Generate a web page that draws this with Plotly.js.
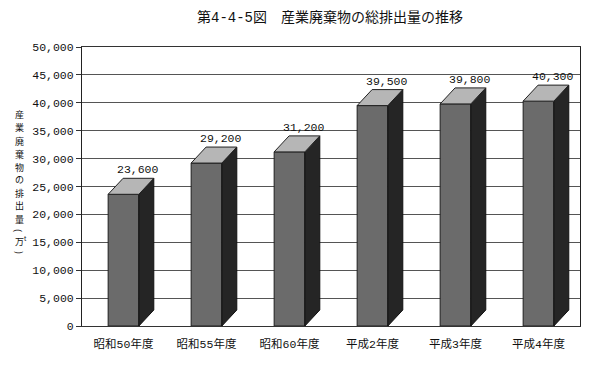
<!DOCTYPE html>
<html>
<head>
<meta charset="utf-8">
<script src="https://cdn.plot.ly/plotly-3.0.1.min.js"></script>
<style>html,body{margin:0;padding:0;background:#fff;}</style>
</head>
<body>
<div id="chart" style="width:600px;height:366px;"></div>
<script>
// ---- data ----
const categories = ['昭和50年度', '昭和55年度', '昭和60年度', '平成2年度', '平成3年度', '平成4年度'];
const values = [23600, 29200, 31200, 39500, 39800, 40300];
const yTickValues = [0, 5000, 10000, 15000, 20000, 25000, 30000, 35000, 40000, 45000, 50000];
const yTickLabels = ['0', '5,000', '10,000', '15,000', '20,000', '25,000', '30,000', '35,000', '40,000', '45,000', '50,000'];
const valueLabels = ['23,600', '29,200', '31,200', '39,500', '39,800', '40,300'];
const titleText = '第4-4-5図　産業廃棄物の総排出量の推移';
const yTitleChars = ['産', '業', '廃', '棄', '物', 'の', '排', '出', '量', '(', '万<sup>t</sup>', ')'];

// ---- style ----
const FONT = 'Liberation Mono, "Noto Sans CJK JP", monospace';
const half = 0.185;      // half bar width (category units)
const dx = 0.18;         // 3D depth in x (category units)
const dy = 2870;         // 3D depth in y (value units)
const M = {l: 82, r: 20, t: 47, b: 40};
const W = 600, H = 366;
const pw = W - M.l - M.r, ph = H - M.t - M.b;

const xs = categories.map((c, i) => i);

// side and top faces built from values
const sideX = [], sideY = [], topX = [], topY = [];
values.forEach((v, i) => {
  sideX.push(i + half, i + half + dx, i + half + dx, i + half, i + half, null);
  sideY.push(0, dy, v + dy, v, 0, null);
  topX.push(i - half, i + half, i + half + dx, i - half + dx, i - half, null);
  topY.push(v, v, v + dy, v + dy, v, null);
});

const traces = [
  {type: 'bar', x: xs, y: values, width: 2 * half,
   marker: {color: '#6b6b6b', line: {color: '#1e1e1e', width: 1}},
   hoverinfo: 'skip', showlegend: false},
  {type: 'scatter', mode: 'lines', x: sideX, y: sideY, fill: 'toself',
   fillcolor: '#252525', line: {color: '#111', width: 1}, hoverinfo: 'skip', showlegend: false},
  {type: 'scatter', mode: 'lines', x: topX, y: topY, fill: 'toself',
   fillcolor: '#b6b6b6', line: {color: '#222', width: 1}, hoverinfo: 'skip', showlegend: false}
];

const annotations = [];
values.forEach((v, i) => {
  annotations.push({x: i + dx, y: v + dy, xref: 'x', yref: 'y', text: valueLabels[i],
    showarrow: false, yanchor: 'bottom', yshift: 0,
    font: {family: FONT, size: 11.5, color: '#111'}});
});
// vertical y-axis title (upright characters stacked)
const px2x = px => (px - M.l) / pw;
const py2y = py => (H - M.b - py) / ph;
const YT_FONT = '"Noto Sans CJK JP"';
const yTitlePos = [115, 128, 141, 154, 167, 180, 193, 206, 219, 230, 241, 252];
yTitleChars.forEach((ch, k) => {
  const isParen = (ch === '(' || ch === ')');
  annotations.push({xref: 'paper', yref: 'paper', x: px2x(k === 10 ? 21 : 19), y: py2y(yTitlePos[k]),
    text: ch, textangle: isParen ? 90 : 0, showarrow: false, xanchor: 'center', yanchor: 'middle',
    borderpad: 0,
    font: {family: YT_FONT, size: 9, color: '#111'}});
});
// title
annotations.push({xref: 'paper', yref: 'paper', x: px2x(330), y: py2y(17), text: titleText,
  showarrow: false, xanchor: 'center', yanchor: 'middle',
  font: {family: FONT, size: 14, color: '#111'}});

const layout = {
  width: W, height: H,
  margin: M,
  paper_bgcolor: '#fff', plot_bgcolor: '#fff',
  showlegend: false,
  bargap: 0,
  xaxis: {range: [-0.5, 5.5], tickvals: xs, ticktext: categories, showgrid: false,
    zeroline: false, showline: true, linecolor: '#333', linewidth: 1, mirror: true,
    ticks: '', ticklabelstandoff: 7, fixedrange: true,
    tickfont: {family: FONT, size: 11.5, color: '#111'}},
  yaxis: {range: [0, 50000], tickvals: yTickValues, ticktext: yTickLabels,
    showgrid: true, gridcolor: '#555', gridwidth: 1, zeroline: false,
    showline: true, linecolor: '#222', linewidth: 1, mirror: true,
    ticks: 'outside', ticklen: 5, tickcolor: '#333', fixedrange: true,
    tickfont: {family: FONT, size: 11.5, color: '#111'}},
  annotations: annotations
};

Plotly.newPlot('chart', traces, layout, {displayModeBar: false, staticPlot: true});
</script>
</body>
</html>
